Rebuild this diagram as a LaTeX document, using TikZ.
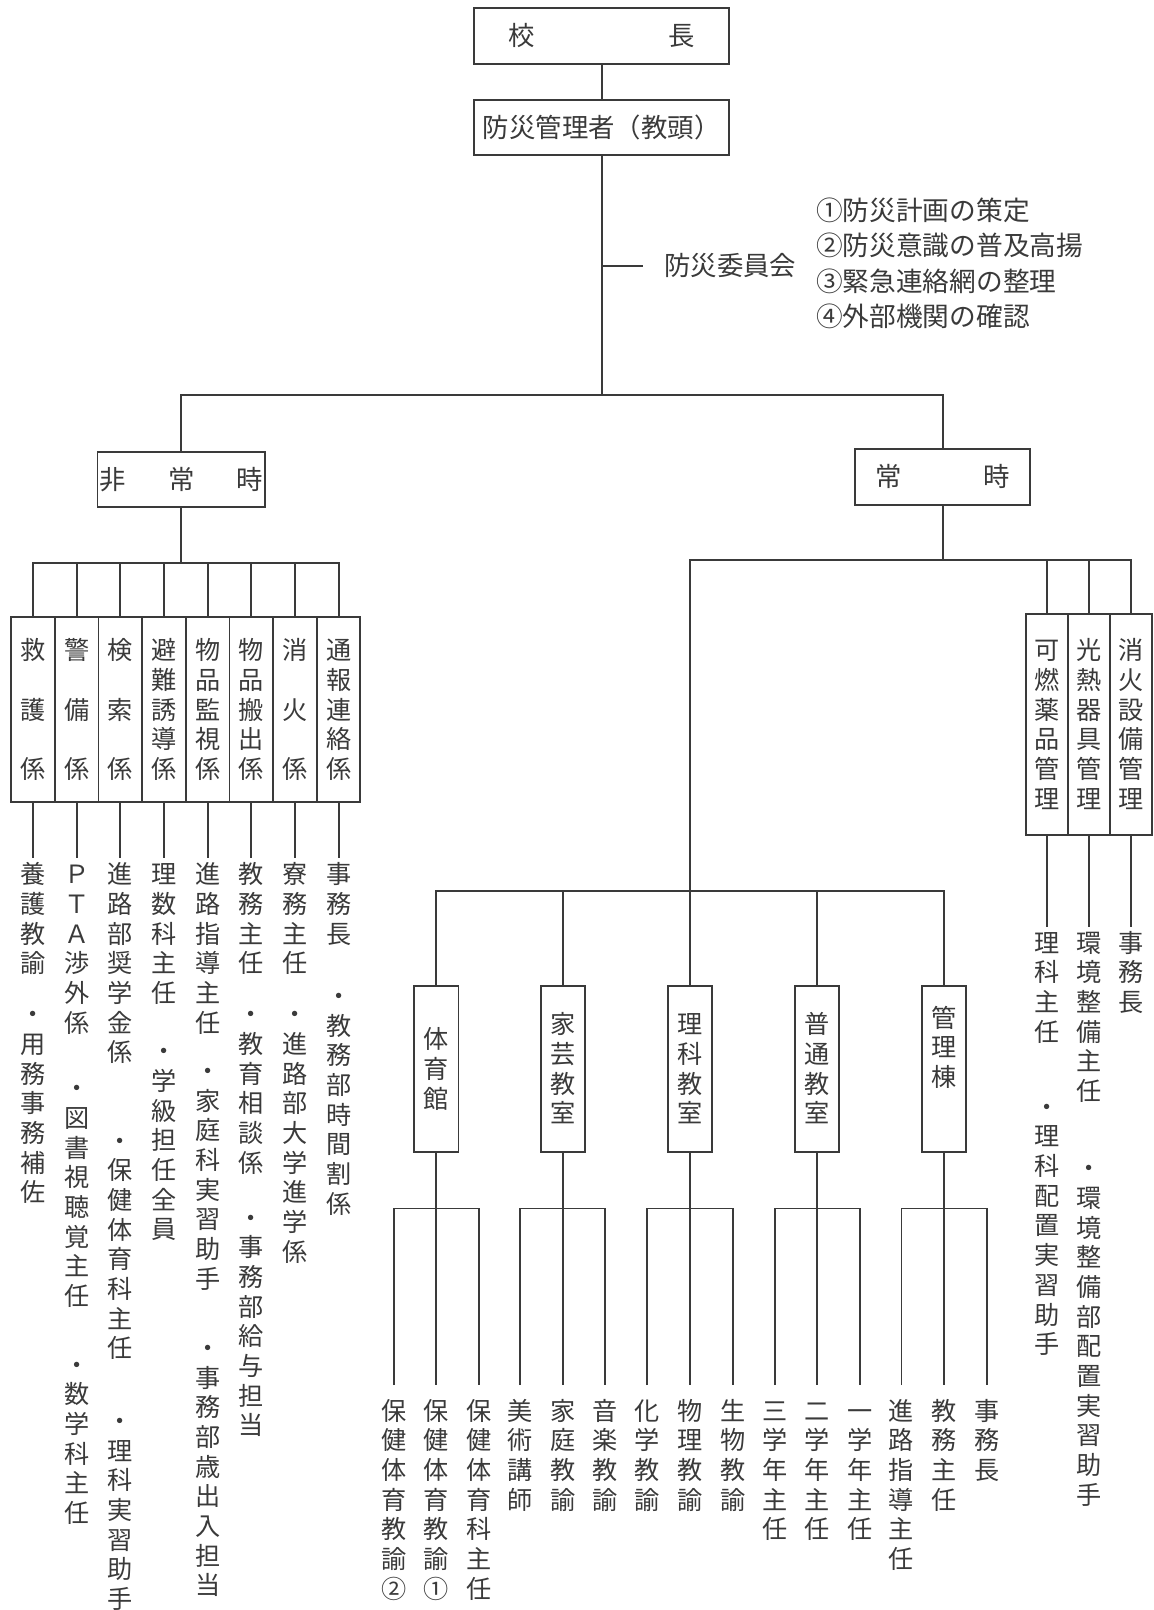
\documentclass[tikz,border=0pt]{standalone}
\usepackage{fontspec}
\setmainfont{Noto Sans CJK JP}
\definecolor{ink}{HTML}{3A3A3A}

\newcommand\hfont{\fontsize{25.7}{30}\selectfont}
\newcommand\vfont{\fontsize{24.5}{28.9}\selectfont}

% vertical text: one character per cell
\ExplSyntaxOn
\dim_new:N \l__tate_pitch_dim
\NewDocumentCommand \tate { O{28.9pt} m }
  {
    \dim_set:Nn \l__tate_pitch_dim {#1}
    \vbox:n
      {
        \offinterlineskip
        \tl_map_inline:nn {#2}
          {
            \hbox_to_wd:nn { 1em }
              {
                \vrule
                  height \dim_eval:n { 0.5 \l__tate_pitch_dim + 0.38em }
                  depth  \dim_eval:n { 0.5 \l__tate_pitch_dim - 0.38em }
                  width  0pt
                \hss ##1 \hss
              }
          }
      }
  }
\ExplSyntaxOff

\begin{document}
\begin{tikzpicture}[
  x=1pt, y=-1pt, color=ink, line width=1.8pt,
  hbox/.style={draw, inner sep=0pt, minimum height=54pt, font=\hfont},
  vbox/.style={draw, inner sep=0pt, font=\vfont},
  col/.style={anchor=north, inner sep=0pt, font=\vfont},
  colsub/.style={col, inner ysep=9.5pt}
]
  \useasboundingbox (0,0) rectangle (1123,1568);

  % head
  \node[hbox, minimum width=248pt] (kocho) at (586,35) {校\hspace{131pt}長};
  \node[hbox, minimum width=248pt] (kanri) at (586,124) {防災管理者（教頭）};
  \draw (kocho) -- (kanri);
  \coordinate (tick) at (586,259);
  \coordinate (bus0) at (586,385);
  \draw (kanri) -- (bus0);

  % committee
  \node[anchor=west, inner xsep=20pt, inner ysep=0pt, font=\hfont] (iinkai) at (626,259) {防災委員会};
  \draw (tick) -- (iinkai.west);
  \node[anchor=west, inner sep=0pt, align=left, font=\fontsize{26}{34.3}\selectfont] (ninmu) at (794,256.5)
    {①防災計画の策定\\②防災意識の普及高揚\\③緊急連絡網の整理\\④外部機関の確認};

  % emergency / normal
  \node[hbox, minimum width=163pt] (hijo) at (176.5,467) {非\hspace{41pt}常\hspace{41pt}時};
  \node[hbox, minimum width=170pt] (jiji) at (918,464.5) {常\hspace{79pt}時};
  \draw (hijo.north) |- (bus0) -| (jiji.north);

  % emergency teams
  \coordinate (busH) at (176.5,548);
  \draw (hijo) -- (busH);
  \node[vbox, minimum width=42.5pt, minimum height=180pt] (kyugo) at (32.25,691) {\tate[57.8pt]{救護係}};
  \node[vbox, minimum width=42.5pt, minimum height=180pt] (keibi) at (74.75,691) {\tate[57.8pt]{警備係}};
  \node[vbox, minimum width=42.5pt, minimum height=180pt] (kensaku) at (117.25,691) {\tate[57.8pt]{検索係}};
  \node[vbox, minimum width=42.5pt, minimum height=180pt] (hinan) at (159.75,691) {\tate{避難誘導係}};
  \node[vbox, minimum width=42.5pt, minimum height=180pt] (kanshi) at (202.25,691) {\tate{物品監視係}};
  \node[vbox, minimum width=42.5pt, minimum height=180pt] (hanshutsu) at (244.75,691) {\tate{物品搬出係}};
  \node[vbox, minimum width=42.5pt, minimum height=180pt] (shoka) at (287.25,691) {\tate[57.8pt]{消火係}};
  \node[vbox, minimum width=42.5pt, minimum height=180pt] (tsuho) at (329.75,691) {\tate{通報連絡係}};
  \draw (kyugo.north) |- (busH) -| (tsuho.north)
    (keibi.north) |- (busH) (kensaku.north) |- (busH) (hinan.north) |- (busH)
    (kanshi.north) |- (busH) (hanshutsu.north) |- (busH) (shoka.north) |- (busH);

  % members of the teams
  \node[col] (kyugoA) at (32.25,836) {\tate{養護教諭}};
  \node[col] (kyugoB) at (32.25,972.5) {\tate{・用務事務補佐}};
  \node[col] (keibiA) at (74.75,836) {\tate{ＰＴＡ渉外係}};
  \node[col] (keibiB) at (74.75,1044.5) {\tate{・図書視聴覚主任}};
  \node[col] (keibiC) at (74.75,1313.5) {\tate{・数学科主任}};
  \node[col] (kensakuA) at (117.25,836) {\tate{進路部奨学金係}};
  \node[col] (kensakuB) at (117.25,1095.5) {\tate{・保健体育科主任}};
  \node[col] (kensakuC) at (117.25,1368.5) {\tate{・理科実習助手}};
  \node[col] (hinanA) at (159.75,836) {\tate{理数科主任}};
  \node[col] (hinanB) at (159.75,1008.5) {\tate{・学級担任全員}};
  \node[col] (kanshiA) at (202.25,836) {\tate{進路指導主任}};
  \node[col] (kanshiB) at (202.25,1027.5) {\tate{・家庭科実習助手}};
  \node[col] (kanshiC) at (202.25,1297.5) {\tate{・事務部歳出入担当}};
  \node[col] (hanshutsuA) at (244.75,836) {\tate{教務主任}};
  \node[col] (hanshutsuB) at (244.75,972.5) {\tate{・教育相談係}};
  \node[col] (hanshutsuC) at (244.75,1170.5) {\tate{・事務部給与担当}};
  \node[col] (shokaA) at (287.25,836) {\tate{寮務主任}};
  \node[col] (shokaB) at (287.25,972.5) {\tate{・進路部大学進学係}};
  \node[col] (tsuhoA) at (329.75,836) {\tate{事務長}};
  \node[col] (tsuhoB) at (329.75,954.5) {\tate{・教務部時間割係}};
  \draw (kyugo) -- (kyugoA) (keibi) -- (keibiA) (kensaku) -- (kensakuA) (hinan) -- (hinanA)
    (kanshi) -- (kanshiA) (hanshutsu) -- (hanshutsuA) (shoka) -- (shokaA) (tsuho) -- (tsuhoA);

  % normal duties: equipment
  \coordinate (busJ) at (918,545);
  \draw (jiji) -- (busJ);
  \node[vbox, minimum width=41pt, minimum height=215pt] (kanen) at (1019.5,705.5) {\tate{可燃薬品管理}};
  \node[vbox, minimum width=41pt, minimum height=215pt] (konetsu) at (1060.5,705.5) {\tate{光熱器具管理}};
  \node[vbox, minimum width=41pt, minimum height=215pt] (shosetsu) at (1101.5,705.5) {\tate{消火設備管理}};
  \node[col] (kanenA) at (1019.5,902.5) {\tate{理科主任}};
  \node[col] (kanenB) at (1019.5,1062.5) {\tate{・理科配置実習助手}};
  \node[col] (konetsuA) at (1060.5,902.5) {\tate{環境整備主任}};
  \node[col] (konetsuB) at (1060.5,1122.5) {\tate{・環境整備部配置実習助手}};
  \node[col] (shosetsuA) at (1101.5,902.5) {\tate{事務長}};
  \draw (kanen) -- (kanenA) (konetsu) -- (konetsuA) (shosetsu) -- (shosetsuA);

  % normal duties: buildings
  \coordinate (busB) at (672,868);
  \node[vbox, minimum width=43pt, minimum height=162pt] (taiiku) at (425,1041) {\tate{体育館}};
  \node[vbox, minimum width=43pt, minimum height=162pt] (kagei) at (548,1041) {\tate{家芸教室}};
  \node[vbox, minimum width=43pt, minimum height=162pt] (rika) at (672,1041) {\tate{理科教室}};
  \node[vbox, minimum width=43pt, minimum height=162pt] (futsu) at (796,1041) {\tate{普通教室}};
  \node[vbox, minimum width=43pt, minimum height=162pt] (kanrito) at (919.5,1041) {\raisebox{21pt}[\height][\depth]{\tate{管理棟}}};
  \draw (rika.north) |- (busJ) -| (shosetsu.north)
    (kanen.north) |- (busJ) (konetsu.north) |- (busJ);
  \draw (taiiku.north) |- (busB) -| (kanrito.north)
    (kagei.north) |- (busB) (futsu.north) |- (busB);

  % staff of each building
  \coordinate (barT) at (425,1177);
  \coordinate (barK) at (548,1177);
  \coordinate (barR) at (672,1177);
  \coordinate (barF) at (796,1177);
  \coordinate (barM) at (919.5,1177);
  \node[colsub] (taiikuA) at (383.5,1349) {\tate{保健体育教諭②}};
  \node[colsub] (taiikuB) at (425,1349) {\tate{保健体育教諭①}};
  \node[colsub] (taiikuC) at (466.5,1349) {\tate{保健体育科主任}};
  \node[colsub] (kageiA) at (506.5,1349) {\tate{美術講師}};
  \node[colsub] (kageiB) at (548,1349) {\tate{家庭教諭}};
  \node[colsub] (kageiC) at (589.5,1349) {\tate{音楽教諭}};
  \node[colsub] (rikaA) at (630.5,1349) {\tate{化学教諭}};
  \node[colsub] (rikaB) at (672,1349) {\tate{物理教諭}};
  \node[colsub] (rikaC) at (713.5,1349) {\tate{生物教諭}};
  \node[colsub] (futsuA) at (754.5,1349) {\tate{三学年主任}};
  \node[colsub] (futsuB) at (796,1349) {\tate{二学年主任}};
  \node[colsub] (futsuC) at (837.5,1349) {\tate{一学年主任}};
  \node[colsub] (kanritoA) at (878,1349) {\tate{進路指導主任}};
  \node[colsub] (kanritoB) at (919.5,1349) {\tate{教務主任}};
  \node[colsub] (kanritoC) at (961,1349) {\tate{事務長}};
  \draw (taiiku) -- (barT) (taiikuA.north) |- (barT) -| (taiikuC.north) (barT) -- (taiikuB);
  \draw (kagei) -- (barK) (kageiA.north) |- (barK) -| (kageiC.north) (barK) -- (kageiB);
  \draw (rika) -- (barR) (rikaA.north) |- (barR) -| (rikaC.north) (barR) -- (rikaB);
  \draw (futsu) -- (barF) (futsuA.north) |- (barF) -| (futsuC.north) (barF) -- (futsuB);
  \draw (kanrito) -- (barM) (kanritoA.north) |- (barM) -| (kanritoC.north) (barM) -- (kanritoB);
\end{tikzpicture}
\end{document}
